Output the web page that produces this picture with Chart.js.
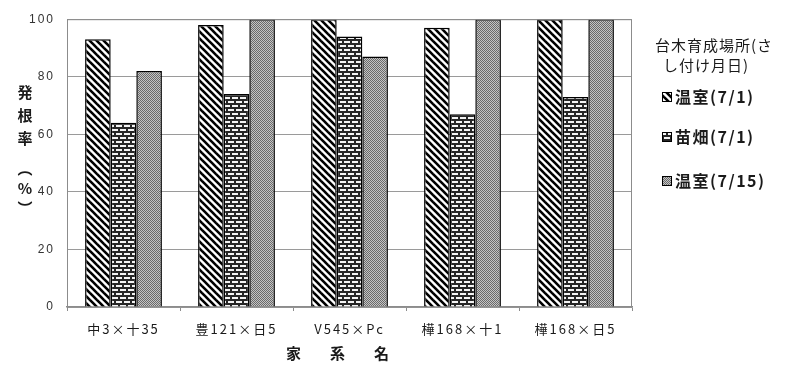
<!DOCTYPE html>
<html>
<head>
<meta charset="utf-8">
<script src="https://cdn.jsdelivr.net/npm/chart.js@4.4.1/dist/chart.umd.min.js"></script>
<style>
  html, body { margin: 0; padding: 0; background: #ffffff; }
  #wrap { width: 785px; height: 365px; }
</style>
</head>
<body>
<div id="wrap"><canvas id="c" width="785" height="365"></canvas></div>
<script>
// 家系別の発根率（台木育成場所・さし付け月日別）
const categories = ['中3×十35', '豊121×日5', 'V545×Pc', '樺168×十1', '樺168×日5'];
const seriesNames = ['温室(7/1)', '苗畑(7/1)', '温室(7/15)'];
const greenhouseJul1 = [93, 98, 100, 97, 100];
const nurseryJul1 = [64, 74, 94, 67, 73];
const greenhouseJul15 = [82, 100, 87, 100, 100];
const yTicks = [0, 20, 40, 60, 80, 100];
const legendTitle = ['台木育成場所(さ', 'し付け月日)'];
const yTitleChars = ['発', '根', '率', '︵', '%', '︶'];
const xTitleChars = ['家', '系', '名'];

const JP = '"Noto Sans CJK JP", "Noto Sans", sans-serif';

function tile(w, h, paint) {
  const cv = document.createElement('canvas');
  cv.width = w; cv.height = h;
  const g = cv.getContext('2d');
  paint(g, w, h);
  return document.getElementById('c').getContext('2d').createPattern(cv, 'repeat');
}

// 右下がり斜線
const hatch = tile(7, 7, (g, w) => {
  g.fillStyle = '#ffffff'; g.fillRect(0, 0, w, w);
  g.strokeStyle = '#000000'; g.lineWidth = 2.6;
  [-w, 0, w].forEach(c => {
    g.beginPath(); g.moveTo(c - 2, -2); g.lineTo(c + w + 2, w + 2); g.stroke();
  });
});

// れんが
const brick = tile(8, 8, (g) => {
  g.fillStyle = '#262626'; g.fillRect(0, 0, 8, 8);
  g.fillStyle = '#f4f4f4';
  g.fillRect(0, 1, 6, 2);
  g.fillRect(4, 5, 6, 2);
  g.fillRect(-4, 5, 6, 2);
});

// 細かい網点
const dots = tile(2, 2, (g) => {
  g.fillStyle = '#c4c4c4'; g.fillRect(0, 0, 2, 2);
  g.fillStyle = '#6a6a6a'; g.fillRect(0, 0, 1, 1); g.fillRect(1, 1, 1, 1);
});

const fills = [hatch, brick, dots];

const decorations = {
  id: 'decorations',
  beforeDraw(chart) {
    // 目盛・項目名の字間を広げる
    chart.ctx.letterSpacing = '2px';
  },
  afterDraw(chart) {
    const ctx = chart.ctx;
    const a = chart.chartArea;
    ctx.save();
    // 枠線（上・右）
    ctx.strokeStyle = '#8c8c8c';
    ctx.lineWidth = 1;
    ctx.beginPath();
    ctx.moveTo(a.left, a.top + 0.5); ctx.lineTo(a.right - 0.5, a.top + 0.5);
    ctx.lineTo(a.right - 0.5, a.bottom);
    ctx.stroke();

    ctx.fillStyle = '#1a1a1a';
    ctx.textAlign = 'center';
    ctx.textBaseline = 'middle';
    ctx.letterSpacing = '0px';

    // 縦軸タイトル（縦書き）
    ctx.font = 'bold 15px ' + JP;
    const yPos = [92, 115, 138, 168, 188, 208];
    yTitleChars.forEach((ch, i) => ctx.fillText(ch, 25, yPos[i]));

    // 横軸タイトル
    ctx.font = 'bold 15px ' + JP;
    const cx = (a.left + a.right) / 2 - 12;
    xTitleChars.forEach((ch, i) => ctx.fillText(ch, cx + (i - 1) * 44, 353));

    // 凡例
    ctx.font = '15px ' + JP;
    ctx.letterSpacing = '1px';
    ctx.fillText(legendTitle[0], 714, 45);
    ctx.fillText(legendTitle[1], 706, 65);
    const itemY = [97, 137, 181];
    chart.data.datasets.forEach((ds, i) => {
      const y = itemY[i];
      ctx.fillStyle = ds.backgroundColor;
      ctx.fillRect(662, y - 5, 10, 10);
      ctx.strokeStyle = '#000000';
      ctx.lineWidth = 1;
      ctx.strokeRect(662.5, y - 4.5, 9, 9);
      ctx.fillStyle = '#1a1a1a';
      ctx.font = 'bold 16px ' + JP;
      ctx.letterSpacing = '1.5px';
      ctx.textAlign = 'left';
      ctx.fillText(ds.label, 675, y);
      ctx.textAlign = 'center';
    });
    ctx.restore();
    ctx.letterSpacing = '0px';
  }
};

const seriesValues = [greenhouseJul1, nurseryJul1, greenhouseJul15];

new Chart(document.getElementById('c'), {
  type: 'bar',
  data: {
    labels: categories,
    datasets: seriesNames.map((name, i) => ({
      label: name,
      data: seriesValues[i],
      backgroundColor: fills[i],
      borderColor: '#000000',
      borderWidth: 1.5,
      borderSkipped: 'bottom',
      categoryPercentage: 0.68,
      barPercentage: 1.0
    }))
  },
  options: {
    responsive: false,
    animation: false,
    devicePixelRatio: 1,
    layout: { padding: { left: 0, right: 153, top: 16, bottom: 0 } },
    plugins: {
      legend: { display: false },
      tooltip: { enabled: false }
    },
    scales: {
      x: {
        afterFit(s) { s.height = 58; },
        grid: {
          offset: true,
          drawOnChartArea: false,
          drawTicks: true,
          tickLength: 4,
          color: '#8c8c8c'
        },
        border: { color: '#8c8c8c', width: 1.5 },
        ticks: {
          color: '#1a1a1a',
          font: { family: JP, size: 13 },
          padding: 10,
          maxRotation: 0
        }
      },
      y: {
        min: 0,
        max: 100,
        afterFit(s) { s.width = 67; },
        afterBuildTicks(s) { s.ticks = yTicks.map(v => ({ value: v })); },
        grid: { color: '#9a9a9a', drawTicks: false, lineWidth: 1 },
        border: { color: '#8c8c8c', width: 1 },
        ticks: {
          color: '#333333',
          font: { family: 'Arial, "Liberation Sans", sans-serif', size: 12 },
          padding: 12
        }
      }
    }
  },
  plugins: [decorations]
});
</script>
</body>
</html>
